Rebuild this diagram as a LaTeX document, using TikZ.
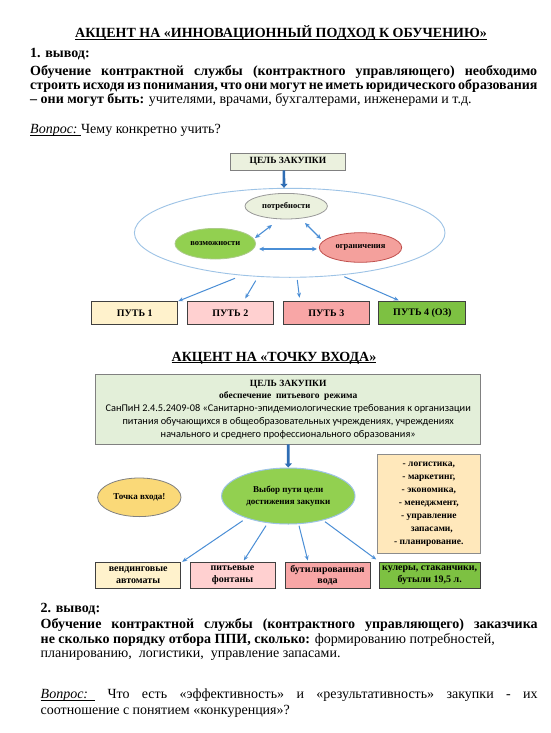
\documentclass[tikz,border=0pt]{standalone}
\usepackage{fontspec}
\setmainfont{Liberation Serif}
\newfontfamily\calfont{Carlito}
\usetikzlibrary{shapes.geometric,arrows.meta,calc}
\definecolor{lgreen}{HTML}{EBF1DE}
\definecolor{boxgreen}{HTML}{E3EFD9}
\definecolor{brightgreen}{HTML}{92D050}
\definecolor{pathgreen}{HTML}{7DC142}
\definecolor{lyellow}{HTML}{FFF2CC}
\definecolor{lpink}{HTML}{FFD0D0}
\definecolor{mpink}{HTML}{F8A6A6}
\definecolor{salmon}{HTML}{F4A09C}
\definecolor{dred}{HTML}{C0504D}
\definecolor{gold}{HTML}{FAD978}
\definecolor{conblue}{HTML}{4A8ED6}
\definecolor{thickblue}{HTML}{2E6DB4}
\definecolor{outlineblue}{HTML}{9DC3E6}
\definecolor{edgegray}{HTML}{404040}
\newcommand\myul[1]{\underline{\smash{#1}}}
\begin{document}
\begin{tikzpicture}[x=1pt,y=-1pt,
  txt/.style={inner sep=0pt,anchor=base west,font=\fontsize{14}{16}\selectfont},
  ttl/.style={inner sep=0pt,anchor=base,font=\fontsize{14}{16}\selectfont\bfseries},
  pathbox/.style={draw=edgegray,line width=1pt,rectangle,inner sep=0pt,minimum height=23.3pt,minimum width=86pt,font=\fontsize{10}{11}\selectfont\bfseries},
  endbox/.style={draw=edgegray,line width=1pt,rectangle,inner sep=0pt,minimum height=26pt,minimum width=85pt,align=center,font=\fontsize{10}{11.6}\selectfont\bfseries},
  ell/.style={ellipse,inner sep=0pt,line width=0.8pt,font=\fontsize{8.5}{10}\selectfont\bfseries},
  con/.style={draw=conblue,line width=1pt,-{Stealth[length=5pt,width=4pt]}},
  dcon/.style={draw=conblue,line width=1.1pt,{Stealth[length=5pt,width=4.5pt]}-{Stealth[length=5pt,width=4.5pt]}},
  thick arrow/.style={draw=thickblue,line width=2.6pt,-{Triangle[length=4pt,width=7pt]}},
  smalltxt/.style={inner sep=0pt,anchor=base}
]
\useasboundingbox (0,0) rectangle (550,733);
\fill[white] (0,0) rectangle (550,733);

% ---------- top text ----------
\node[ttl] (title1) at (281,38) {\myul{АКЦЕНТ НА «ИННОВАЦИОННЫЙ ПОДХОД К ОБУЧЕНИЮ»}};
\node[txt] (v1) at (30,57.7) {\bfseries 1. вывод:};
\node[txt] (p1a) at (30,75.7) {\makebox[507pt][s]{\bfseries Обучение контрактной службы (контрактного управляющего) необходимо}};
\node[txt] (p1b) at (30,90) {\makebox[507pt][s]{\bfseries строить исходя из понимания, что они могут не иметь юридического образования}};
\node[txt] (p1c) at (30,104) {\textbf{– они могут быть:} учителями, врачами, бухгалтерами, инженерами и т.д.};
\node[txt] (q1) at (30,134) {\myul{\textit{Вопрос:}\ }Чему конкретно учить?};

% ---------- diagram 1 ----------
\node[draw=gray,line width=0.8pt,fill=lgreen,rectangle,inner sep=0pt,minimum width=115.7pt,minimum height=16.7pt,font=\fontsize{9.5}{11}\selectfont\bfseries] (goal) at (287.9,161.7) {ЦЕЛЬ ЗАКУПКИ};
\node[ellipse,draw=outlineblue,line width=0.9pt,minimum width=310.6pt,minimum height=89pt,inner sep=0pt] (big) at (289.7,232.8) {};
\node[ell,draw=gray!80,fill=lgreen,minimum width=82.4pt,minimum height=25.6pt] (potr) at (286.2,206.2) {потребности};
\node[ell,draw=brightgreen!80!black!60!white,fill=brightgreen,minimum width=80.6pt,minimum height=30.6pt] (voz) at (215.3,243.7) {возможности};
\node[ell,draw=dred,fill=salmon,minimum width=82.4pt,minimum height=29.6pt] (ogr) at (360.5,247.5) {ограничения};

\draw[thick arrow] ($(goal.south)+(-4,0)$) -- ($(big.north)+(-5.7,0)$);

\draw[dcon] ($(voz.center)+(39.7,-5.7)$) -- ($(potr.center)+(-14.2,18.8)$);
\draw[dcon] ($(potr.center)+(18.8,16.8)$) -- ($(ogr.center)+(-39.5,-8.5)$);
\draw[dcon] ($(voz.center)+(43.7,5.3)$) -- ($(ogr.center)+(-43.5,1.5)$);

\node[pathbox,fill=lyellow] (path1) at (134.7,313.3) {ПУТЬ 1};
\node[pathbox,fill=lpink] (path2) at (230.3,313.3) {ПУТЬ 2};
\node[pathbox,fill=mpink] (path3) at (326.3,313.3) {ПУТЬ 3};
\node[pathbox,fill=pathgreen,minimum width=86.7pt] (path4) at (422.3,313.3) {ПУТЬ 4 (ОЗ)};

\draw[con] ($(big.center)+(-54.7,45.5)$) -- (path1.north east);
\draw[con] ($(big.center)+(-34,47.9)$) -- ($(path2.north west)+(58.4,-2.7)$);
\draw[con] ($(big.center)+(7.6,47.2)$) -- ($(path3.north west)+(16.7,-3.4)$);
\draw[con] ($(big.center)+(54.6,43.9)$) -- ($(path4.north west)+(20.3,-0.7)$);

% ---------- title 2 ----------
\node[ttl] (title2) at (274,361) {\myul{АКЦЕНТ НА «ТОЧКУ ВХОДА»}};

% ---------- diagram 2 ----------
\node[draw=gray,line width=0.9pt,fill=boxgreen,rectangle,inner sep=0pt,minimum width=385pt,minimum height=70pt] (goal2) at (288.2,409) {};
\node[smalltxt,font=\fontsize{9.5}{11}\selectfont\bfseries] (g2a) at (288.2,386) {ЦЕЛЬ ЗАКУПКИ};
\node[smalltxt,font=\fontsize{9.5}{11}\selectfont\bfseries] (g2b) at (288.2,398.8) {обеспечение\ \ питьевого\ \ режима};
\node[smalltxt,font=\calfont\fontsize{10.3}{11}\selectfont] (g2c) at (288.2,411.8) {СанПиН 2.4.5.2409-08 «Санитарно-эпидемиологические требования к организации};
\node[smalltxt,font=\calfont\fontsize{10.3}{11}\selectfont] (g2d) at (288.2,424.5) {питания обучающихся в общеобразовательных учреждениях, учреждениях};
\node[smalltxt,font=\calfont\fontsize{10.3}{11}\selectfont] (g2e) at (288.2,437.2) {начального и среднего профессионального образования»};

\node[ell,draw=outlineblue,line width=1pt,fill=brightgreen,minimum width=133.4pt,minimum height=56pt,align=center,font=\fontsize{9}{12}\selectfont\bfseries] (sel) at (288.3,496) {Выбор пути цели\\достижения закупки};
\draw[thick arrow] (goal2.south) -- (sel.north);

\node[ell,draw=gray,fill=gold,minimum width=83.4pt,minimum height=38.6pt,font=\fontsize{9}{10}\selectfont\bfseries] (entry) at (139.3,497.3) {Точка входа!};

\node[draw=gray!90,line width=0.8pt,fill=lyellow!90!orange!95!white,rectangle,inner sep=0pt,minimum width=102.3pt,minimum height=99pt,align=center,font=\fontsize{9.5}{13}\selectfont\bfseries] (skills) at (428.8,503.8) {- логистика,\\- маркетинг,\\- экономика,\\- менеджмент,\\- управление\\\hspace*{6pt}запасами,\\- планирование.};

\node[endbox,fill=lyellow] (endA) at (138.2,575.3) {вендинговые\\автоматы};
\node[endbox,fill=lpink] (endB) at (232.5,575.3) {питьевые\\фонтаны};
\node[endbox,fill=mpink] (endC) at (327.5,575.3) {бутилированная\\вода};
\node[endbox,fill=pathgreen,minimum width=100.7pt] (endD) at (429.7,575.3) {кулеры, стаканчики,\\бутыли 19,5 л.};

\draw[con] ($(sel.center)+(-45.6,24.7)$) -- ($(endA.north east)+(1,0)$);
\draw[con] ($(sel.center)+(-22.3,29.7)$) -- ($(endB.north west)+(54.3,-1.3)$);
\draw[con] ($(sel.center)+(10.7,29.7)$) -- ($(endC.north west)+(23.3,-1.3)$);
\draw[con] ($(sel.center)+(36.7,25.7)$) -- ($(endD.north west)+(-2.6,-2.3)$);

% ---------- bottom text ----------
\node[txt] (v2) at (40.5,612) {\bfseries 2. вывод:};
\node[txt] (p2a) at (40.5,628) {\makebox[497pt][s]{\bfseries Обучение контрактной службы (контрактного управляющего) заказчика}};
\node[txt] (p2b) at (40.5,643) {\textbf{не сколько порядку отбора ППИ, сколько:} формированию потребностей,};
\node[txt] (p2c) at (40.5,657.5) {планированию,\ \ логистики,\ \ управление запасами.};
\node[txt] (q2) at (40.5,698.5) {\makebox[497pt][s]{\myul{\textit{Вопрос:}\ \ }\ Что есть «эффективность» и «результативность» закупки - их}};
\node[txt] (q2b) at (40.5,714) {соотношение с понятием «конкуренция»?};
\end{tikzpicture}
\end{document}
